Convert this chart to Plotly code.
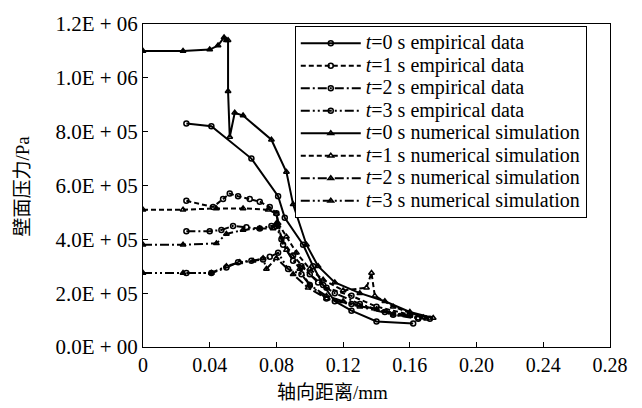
import plotly.graph_objects as go

# ---- data (axial distance in mm, wall pressure in Pa) ----
emp0_x = [0.026, 0.041, 0.065, 0.081, 0.085, 0.096, 0.102, 0.108, 0.115, 0.125, 0.140, 0.162]
emp0_y = [8.3e5, 8.2e5, 7.0e5, 5.6e5, 4.8e5, 3.8e5, 3.0e5, 2.3e5, 1.7e5, 1.35e5, 0.95e5, 0.87e5]

emp1_x = [0.026, 0.042, 0.048, 0.052, 0.057, 0.064, 0.070, 0.076, 0.080, 0.083, 0.090, 0.100, 0.110, 0.125, 0.140, 0.160, 0.172]
emp1_y = [5.43e5, 5.2e5, 5.5e5, 5.7e5, 5.6e5, 5.5e5, 5.4e5, 5.2e5, 4.97e5, 4.0e5, 3.4e5, 2.7e5, 2.2e5, 1.9e5, 1.5e5, 1.2e5, 1.05e5]

emp2_x = [0.026, 0.040, 0.047, 0.054, 0.062, 0.070, 0.077, 0.080, 0.084, 0.090, 0.095, 0.105, 0.115, 0.130, 0.150, 0.165]
emp2_y = [4.3e5, 4.3e5, 4.35e5, 4.5e5, 4.45e5, 4.4e5, 4.5e5, 4.5e5, 3.8e5, 3.2e5, 3.0e5, 2.4e5, 2.0e5, 1.6e5, 1.2e5, 1.05e5]

emp3_x = [0.026, 0.041, 0.050, 0.057, 0.065, 0.072, 0.076, 0.081, 0.087, 0.095, 0.100, 0.110, 0.125, 0.145, 0.165]
emp3_y = [2.75e5, 2.75e5, 2.95e5, 3.15e5, 3.2e5, 3.25e5, 3.35e5, 3.5e5, 2.9e5, 2.7e5, 2.3e5, 1.8e5, 1.6e5, 1.3e5, 1.1e5]

sim0_x = [0, 0.024, 0.040, 0.045, 0.0486, 0.050, 0.051, 0.051, 0.052, 0.055, 0.060, 0.077, 0.086, 0.090, 0.098, 0.105, 0.115, 0.130, 0.145, 0.160, 0.174]
sim0_y = [1.1e6, 1.1e6, 1.105e6, 1.12e6, 1.15e6, 1.14e6, 1.14e6, 9.5e5, 7.8e5, 8.7e5, 8.6e5, 7.7e5, 6.5e5, 5.3e5, 3.8e5, 3.0e5, 2.4e5, 2.0e5, 1.7e5, 1.3e5, 1.08e5]

sim1_x = [0, 0.024, 0.044, 0.060, 0.075, 0.080, 0.081, 0.086, 0.092, 0.100, 0.108, 0.120, 0.134, 0.137, 0.139, 0.150, 0.168]
sim1_y = [5.1e5, 5.1e5, 5.15e5, 5.15e5, 5.1e5, 4.95e5, 4.6e5, 4.1e5, 3.5e5, 2.9e5, 2.5e5, 2.1e5, 2.2e5, 2.75e5, 1.9e5, 1.5e5, 1.1e5]

sim2_x = [0, 0.024, 0.044, 0.050, 0.060, 0.070, 0.078, 0.080, 0.086, 0.094, 0.100, 0.110, 0.120, 0.140, 0.160]
sim2_y = [3.8e5, 3.8e5, 3.85e5, 4.2e5, 4.35e5, 4.4e5, 4.4e5, 4.6e5, 3.6e5, 2.9e5, 2.3e5, 1.9e5, 1.7e5, 1.4e5, 1.15e5]

sim3_x = [0, 0.024, 0.041, 0.050, 0.058, 0.066, 0.072, 0.074, 0.080, 0.090, 0.099, 0.110, 0.130, 0.150, 0.170]
sim3_y = [2.75e5, 2.75e5, 2.75e5, 3.0e5, 3.15e5, 3.2e5, 3.3e5, 2.9e5, 3.3e5, 2.7e5, 2.2e5, 1.8e5, 1.5e5, 1.2e5, 1.05e5]

series_names = [
    "t=0 s empirical data", "t=1 s empirical data", "t=2 s empirical data", "t=3 s empirical data",
    "t=0 s numerical simulation", "t=1 s numerical simulation", "t=2 s numerical simulation", "t=3 s numerical simulation",
]

x_tickvals = [0, 0.04, 0.08, 0.12, 0.16, 0.20, 0.24, 0.28]
x_ticktext = ["0", "0.04", "0.08", "0.12", "0.16", "0.20", "0.24", "0.28"]
y_tickvals = [0, 2e5, 4e5, 6e5, 8e5, 1.0e6, 1.2e6]
y_ticktext = ["0.0E + 00", "2.0E + 05", "4.0E + 05", "6.0E + 05", "8.0E + 05", "1.0E + 06", "1.2E + 06"]

xs = [emp0_x, emp1_x, emp2_x, emp3_x, sim0_x, sim1_x, sim2_x, sim3_x]
ys = [emp0_y, emp1_y, emp2_y, emp3_y, sim0_y, sim1_y, sim2_y, sim3_y]

dashes = ["solid", "5px,3px", "9px,3px,2px,3px", "9px,3px,2px,3px,2px,3px"] * 2
symbols = ["circle-open"] * 4 + ["triangle-up-open"] * 4

SERIF = "Liberation Serif"
MIXED = "Liberation Serif, Noto Sans CJK SC"

fig = go.Figure()
for name, x, y, d, s in zip(series_names, xs, ys, dashes, symbols):
    label = '<span style="font-size:20px"><i>t</i>' + name[1:] + "</span>"
    fig.add_trace(go.Scatter(
        x=x, y=y, mode="lines+markers", name=label,
        line=dict(color="black", width=2, dash=d),
        marker=dict(symbol=s, size=5, color="black", line=dict(color="black", width=1.5)),
    ))

fig.update_layout(
    width=642, height=408,
    margin=dict(l=143, r=32, t=16, b=61),
    paper_bgcolor="white", plot_bgcolor="white",
    font=dict(family=SERIF, color="black", size=21),
    showlegend=True,
    legend=dict(
        x=0.325, y=0.994, xanchor="left", yanchor="top",
        bgcolor="white", bordercolor="black", borderwidth=1,
        font=dict(family=SERIF, size=15, color="black"),
        itemwidth=60, tracegroupgap=0,
    ),
    xaxis=dict(
        range=[0, 0.28], tickvals=x_tickvals, ticktext=x_ticktext,
        ticks="inside", ticklen=5, tickcolor="black",
        showline=True, linecolor="black", linewidth=1, mirror=True,
        showgrid=False, zeroline=False,
        tickfont=dict(family=SERIF, size=20),
    ),
    yaxis=dict(
        range=[0, 1.2e6], tickvals=y_tickvals, ticktext=y_ticktext,
        ticks="inside", ticklen=5, tickcolor="black",
        showline=True, linecolor="black", linewidth=1, mirror=True,
        showgrid=False, zeroline=False,
        tickfont=dict(family=SERIF, size=21),
    ),
    annotations=[
        dict(text="轴向距离/mm", xref="paper", yref="paper", x=0.405, y=-0.141,
             xanchor="center", yanchor="middle", showarrow=False,
             font=dict(family=MIXED, size=19, color="black")),
        dict(text="壁面压力/Pa", xref="paper", yref="paper", x=-0.257, y=0.5,
             xanchor="center", yanchor="middle", showarrow=False, textangle=-90,
             font=dict(family=MIXED, size=19, color="black")),
    ],
)

fig.write_html("out.html", config={"displayModeBar": False},
               post_script="document.body.style.margin='0';")
